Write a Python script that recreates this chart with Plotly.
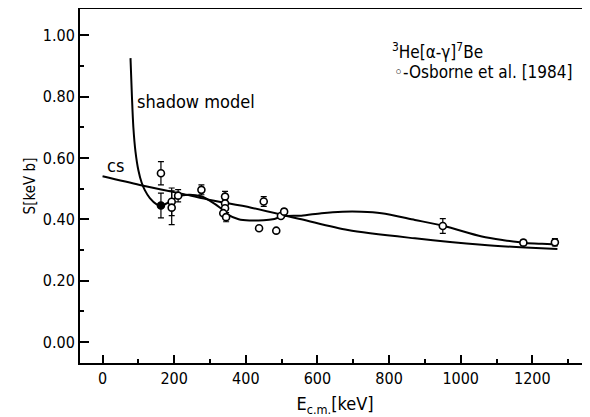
import plotly.graph_objects as go

# Osborne et al. [1984] data (E in keV, S in keV b, symmetric error)
data_E = [163, 193, 193, 211, 276, 342, 342, 342, 337, 345, 450, 437, 485, 498, 507, 950, 1175, 1263]
data_S = [0.55, 0.457, 0.438, 0.477, 0.496, 0.474, 0.452, 0.436, 0.42, 0.407, 0.458, 0.371, 0.363, 0.411, 0.425, 0.378, 0.324, 0.325]
data_err = [0.038, 0.045, 0.055, 0.02, 0.016, 0.017, 0.0, 0.0, 0.0, 0.015, 0.016, 0.0, 0.0, 0.008, 0.008, 0.024, 0.008, 0.012]

# filled point
filled_E = [163]
filled_S = [0.445]
filled_err = [0.04]

# shadow model curve
shadow_E = [78, 82, 86, 92, 100, 109, 118, 132, 151, 165, 188, 211, 240, 275, 300, 330, 350, 380, 410, 450,
            475, 505, 555, 611, 670, 723, 779, 872, 954, 1059, 1120, 1180, 1227, 1270]
shadow_S = [0.925, 0.80, 0.70, 0.62, 0.56, 0.52, 0.495, 0.469, 0.449, 0.445, 0.457, 0.474, 0.48, 0.475, 0.46,
            0.436, 0.415, 0.40, 0.396, 0.397, 0.40, 0.41, 0.412, 0.42, 0.425, 0.425, 0.42, 0.398, 0.378, 0.344,
            0.332, 0.323, 0.32, 0.318]

# cs curve
cs_E = [0, 104, 227, 300, 415, 555, 685, 872, 1059, 1180, 1270]
cs_S = [0.54, 0.512, 0.482, 0.463, 0.438, 0.40, 0.365, 0.338, 0.317, 0.308, 0.303]

x_ticks = [0, 200, 400, 600, 800, 1000, 1200]
y_ticks = [0.0, 0.2, 0.4, 0.6, 0.8, 1.0]

FONT = "DejaVu Sans Condensed, DejaVu Sans, sans-serif"

fig = go.Figure()
fig.add_trace(go.Scatter(x=shadow_E, y=shadow_S, mode="lines",
                         line=dict(color="black", width=2, shape="spline", smoothing=0.8),
                         showlegend=False, hoverinfo="skip"))
fig.add_trace(go.Scatter(x=cs_E, y=cs_S, mode="lines",
                         line=dict(color="black", width=2, shape="spline", smoothing=0.8),
                         showlegend=False, hoverinfo="skip"))
fig.add_trace(go.Scatter(x=data_E, y=data_S, mode="markers",
                         error_y=dict(type="data", array=data_err, color="black", thickness=1.2, width=3),
                         marker=dict(symbol="circle", size=7, color="white",
                                     line=dict(color="black", width=1.6)),
                         showlegend=False))
fig.add_trace(go.Scatter(x=filled_E, y=filled_S, mode="markers",
                         error_y=dict(type="data", array=filled_err, color="black", thickness=1.2, width=3),
                         marker=dict(symbol="circle", size=7, color="black",
                                     line=dict(color="black", width=1.6)),
                         showlegend=False))

fig.add_annotation(x=90, y=0.785, text="shadow model", showarrow=False, xanchor="left", yanchor="middle",
                   font=dict(family=FONT, size=18, color="black"))
fig.add_annotation(x=6, y=0.574, text="cs", showarrow=False, xanchor="left", yanchor="middle",
                   font=dict(family=FONT, size=18, color="black"))
fig.add_annotation(x=803, y=0.948, text="<sup>3</sup>He[α-γ]<sup>7</sup>Be", showarrow=False,
                   xanchor="left", yanchor="middle", font=dict(family=FONT, size=17, color="black"))
fig.add_annotation(x=808, y=0.881, text="◦-Osborne et al. [1984]", showarrow=False,
                   xanchor="left", yanchor="middle", font=dict(family=FONT, size=17, color="black"))

# the page body has an 8px margin, so the figure is 8px smaller and shifted
fig.update_layout(
    width=582, height=409,
    margin=dict(l=72, r=0, t=1, b=54),
    paper_bgcolor="white", plot_bgcolor="white",
    font=dict(family=FONT, size=16, color="black"),
    showlegend=False,
)
fig.update_xaxes(
    range=[-63, 1361], tickvals=x_ticks, ticktext=[str(v) for v in x_ticks],
    ticks="inside", ticklen=8, tickwidth=1.5, tickcolor="black",
    minor=dict(dtick=100, tick0=0, ticks="inside", ticklen=4, tickwidth=1.5, tickcolor="black"),
    showline=True, linecolor="black", linewidth=2, mirror=True,
    showgrid=False, zeroline=False, ticklabelstandoff=0, automargin=False,
    title=dict(text="E<sub>c.m.</sub>[keV]", font=dict(family=FONT, size=18), standoff=10),
)
fig.update_yaxes(
    range=[-0.068, 1.085], tickvals=y_ticks, ticktext=["%.2f" % v for v in y_ticks],
    ticks="inside", ticklen=9, tickwidth=1.5, tickcolor="black",
    minor=dict(dtick=0.1, tick0=0, ticks="inside", ticklen=4, tickwidth=1.5, tickcolor="black"),
    showline=True, linecolor="black", linewidth=2, mirror=False,
    showgrid=False, zeroline=False, ticklabelstandoff=0, automargin=False,
    title=dict(text="S[keV b]", font=dict(family=FONT, size=15), standoff=4),
)

fig.write_html("out.html")
